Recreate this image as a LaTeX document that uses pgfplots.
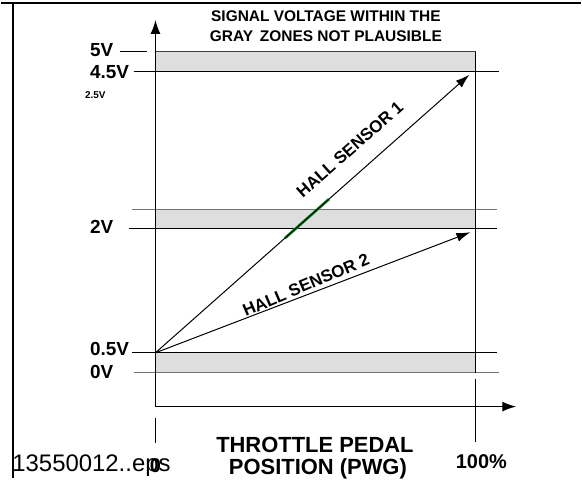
\documentclass[border=0pt]{standalone}
\usepackage{pgfplots}
\pgfplotsset{compat=1.18}
\usetikzlibrary{arrows.meta}
\usepackage{fontspec}
\setmainfont{Liberation Sans}
\definecolor{zone}{RGB}{222,222,222}
\definecolor{grn}{RGB}{20,150,40}
\newcommand{\fs}[1]{\fontsize{#1}{#1}\selectfont}
\begin{document}
\begin{tikzpicture}
\begin{axis}[
  scale only axis, width=291pt, height=240pt,
  xmin=0, xmax=582, ymin=0, ymax=480, y dir=reverse,
  hide axis, clip=false,
]
% bounding box
\addplot[draw=none] coordinates {(0,0) (582,480)};
% frame
\addplot[black, line width=1pt] coordinates {(0,3) (582,3)};
\addplot[black, line width=1pt] coordinates {(12,3) (12,480)};
% gray zones
\addplot[fill=zone, draw=black!75, line width=0.5pt] coordinates {(155,52) (476,52) (476,72) (155,72)} -- cycle;
\addplot[fill=zone, draw=black!75, line width=0.5pt] coordinates {(155,210) (476,210) (476,229) (155,229)} -- cycle;
\addplot[fill=zone, draw=black!75, line width=0.5pt] coordinates {(155,354) (476,354) (476,374) (155,374)} -- cycle;
\addplot[black, line width=0.6pt] coordinates {(155,210) (476,210)};
% level lines
\addplot[black, line width=0.5pt] coordinates {(119,52) (147,52)};
\addplot[black, line width=0.5pt] coordinates {(133,72) (500,72)};
\addplot[black!55, line width=0.6pt] coordinates {(131,210) (498,210)};
\addplot[black, line width=0.5pt] coordinates {(128,229) (498,229)};
\addplot[black, line width=0.5pt] coordinates {(131,354) (498,354)};
\addplot[black!55, line width=0.6pt] coordinates {(133,374) (500,374)};
% box right edge and ticks
\addplot[black, line width=0.5pt] coordinates {(476,52) (476,374)};
\addplot[black, line width=0.5pt] coordinates {(476,380) (476,444)};
\addplot[black, line width=0.5pt] coordinates {(155,419) (155,445)};
% axes
\addplot[black, line width=0.7pt, -{Latex[length=7pt,width=5pt]}] coordinates {(155,408) (155,20)};
\addplot[black, line width=0.7pt, -{Latex[length=7pt,width=5pt]}] coordinates {(155,408) (517,408)};
% sensor lines
\addplot[grn, line width=1.4pt] coordinates {(285,238.9) (329,199.9)};
\addplot[black, line width=0.5pt, -{Latex[length=7pt,width=4.5pt]}] coordinates {(155,354) (470,75)};
\addplot[black, line width=0.5pt, -{Latex[length=7pt,width=4.5pt]}] coordinates {(155,354) (471,233)};
% texts
\node[font=\fs{7.75}\bfseries] at (axis cs:326,16) {SIGNAL VOLTAGE WITHIN THE};
\node[font=\fs{7.75}\bfseries] at (axis cs:326,36) {GRAY\, ZONES NOT PLAUSIBLE};
\node[font=\fs{9.5}\bfseries, anchor=west, inner sep=0pt] at (axis cs:89,50) {5V};
\node[font=\fs{9.5}\bfseries, anchor=west, inner sep=0pt] at (axis cs:89,72) {4.5V};
\node[font=\fs{5}\bfseries, anchor=west, inner sep=0pt] at (axis cs:84,95) {2.5V};
\node[font=\fs{9.5}\bfseries, anchor=west, inner sep=0pt] at (axis cs:89,228) {2V};
\node[font=\fs{9.5}\bfseries, anchor=west, inner sep=0pt] at (axis cs:89,350) {0.5V};
\node[font=\fs{9.5}\bfseries, anchor=west, inner sep=0pt] at (axis cs:89,373) {0V};
\node[font=\fs{8.5}\bfseries, rotate=41.5, inner sep=0pt] at (axis cs:350,150) {HALL SENSOR 1};
\node[font=\fs{8.5}\bfseries, rotate=23, inner sep=0pt] at (axis cs:306,286) {HALL SENSOR 2};
\node[font=\fs{12}, anchor=west, inner sep=0pt] at (axis cs:11,467) {13550012..eps};
\node[font=\fs{10}\bfseries] at (axis cs:155,467) {0};
\node[font=\fs{10}\bfseries] at (axis cs:482,463) {100\%};
\node[font=\fs{11}\bfseries] at (axis cs:315,446) {THROTTLE PEDAL};
\node[font=\fs{11}\bfseries] at (axis cs:318,470) {POSITION (PWG)};
\end{axis}
\end{tikzpicture}
\end{document}
